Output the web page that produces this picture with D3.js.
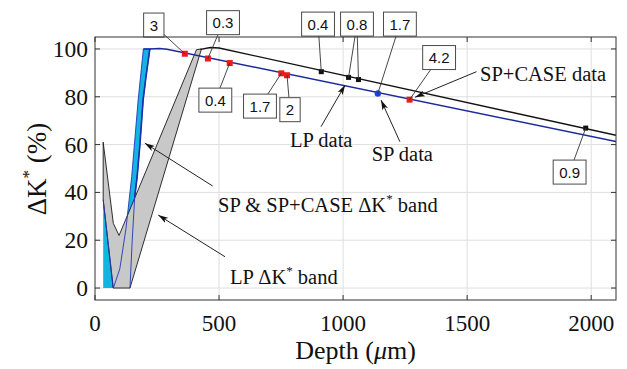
<!DOCTYPE html>
<html>
<head>
<meta charset="utf-8">
<script src="https://cdn.jsdelivr.net/npm/d3@7"></script>
<style>
  body { margin: 0; background: #fff; }
  text { font-family: "Liberation Serif", "Times New Roman", serif; fill: #111; }
  .box text { font-family: "Liberation Sans", Arial, sans-serif; }
</style>
</head>
<body>
<div id="chart"></div>
<script>
// depth in um, dK* in %
const xTicks = [0, 500, 1000, 1500, 2000];
const yTicks = [0, 20, 40, 60, 80, 100];

// LP dK* band outline (gray patch)
const lpBand = [[33, 61], [74, 27], [97, 22], [250, 60], [409, 99.7], [429, 100],
                [141, 0], [73, 0], [33, 37]];
// SP & SP+CASE dK* band (cyan patch)
const spBand = [[33, 37], [74, 0], [100, 8], [125, 25], [148, 46.7], [174, 78.7], [195, 100],
                [221, 100], [205, 88], [194, 78.7], [181, 60], [170, 46.7], [160, 38],
                [150, 20], [141, 0], [33, 0]];

// model curves
const lpCurve = [[425, 99.8], [465, 100.6], [500, 100.4], [2100, 63.9]];
const spCurve = [[221, 100], [260, 100.2], [290, 99.9], [2100, 61.3]];

// measured data
const lpDepth = [912, 1022, 1062, 1978];
const lpK     = [90.5, 88.1, 87.2, 66.9];
const spDepth = [1140];
const spK     = [81.4];
const caseDepth = [362, 455, 543, 751, 774, 1268];
const caseK     = [98.0, 96.0, 94.1, 89.8, 89.0, 78.8];

// boxed value labels: text, box centre (data units), target points
const labelText = ["3", "0.3", "0.4", "1.7", "2", "0.4", "0.8", "1.7", "4.2", "0.9"];
const labelAt = [[237, 110], [516, 111], [485, 78.6], [665, 76.1], [786, 74.6],
                 [899, 110.4], [1056, 110.4], [1229, 110.4], [1387, 96.4], [1913, 48.5]];
const labelTo = [[["c", 0]], [["c", 1]], [["c", 2]], [["c", 3]], [["c", 4]],
                 [["l", 0]], [["l", 1], ["l", 2]], [["s", 0]], [["c", 5]], [["l", 3]]];

// arrow notes
const noteText = ["LP data", "SP data", "SP+CASE data", "SP & SP+CASE \u0394K* band", "LP \u0394K* band"];
const noteAt   = [[786, 59.0], [1115, 53.1], [1552, 86.6], [496, 31.8], [544, 1.7]];
const arrowFrom = [[911, 67.5], [1229, 61.2], [1538, 90.5], [474, 42.7], [524, 13.1]];
const arrowTo   = [[1008, 84.9], [1153, 78.6], [1290, 79.8], [201, 60.6], [255, 30.5]];

const W = 627, H = 369;
const m = { left: 95, right: 11, top: 37, bottom: 69 };

const svg = d3.select("#chart").append("svg")
  .attr("width", W).attr("height", H);

const x = d3.scaleLinear().domain([0, 2100]).range([m.left, W - m.right]);
const y = d3.scaleLinear().domain([-5, 105]).range([H - m.bottom, m.top]);

svg.append("defs").append("marker")
  .attr("id", "head")
  .attr("viewBox", "0 0 10 6")
  .attr("refX", 10).attr("refY", 3)
  .attr("markerWidth", 10).attr("markerHeight", 6)
  .attr("markerUnits", "userSpaceOnUse")
  .attr("orient", "auto")
  .append("path").attr("d", "M0,0 L10,3 L0,6 L2.5,3 Z").attr("fill", "#111");

svg.append("clipPath").attr("id", "plot")
  .append("rect")
  .attr("x", m.left).attr("y", m.top)
  .attr("width", W - m.left - m.right).attr("height", H - m.top - m.bottom);

// grid
const grid = svg.append("g").attr("stroke", "#dedede").attr("stroke-width", 1);
grid.selectAll(".gx").data(xTicks.slice(1)).enter().append("line")
  .attr("x1", d => x(d)).attr("x2", d => x(d))
  .attr("y1", m.top).attr("y2", H - m.bottom);
grid.selectAll(".gy").data(yTicks).enter().append("line")
  .attr("x1", m.left).attr("x2", W - m.right)
  .attr("y1", d => y(d)).attr("y2", d => y(d));

const plot = svg.append("g").attr("clip-path", "url(#plot)");
const line = d3.line().x(d => x(d[0])).y(d => y(d[1]));

// bands
plot.append("path").attr("d", line(spBand) + "Z")
  .attr("fill", "#12b4e2").attr("stroke", "none");
plot.append("path").attr("d", line(lpBand) + "Z")
  .attr("fill", "#c8c8c8").attr("stroke", "#1a1a1a").attr("stroke-width", 0.9);
plot.append("path").attr("d", line(spBand.slice(0, spBand.length - 1)))
  .attr("fill", "none").attr("stroke", "#2236b8").attr("stroke-width", 0.9);
plot.append("path").attr("d", line(spBand.slice(6, 13)))
  .attr("fill", "none").attr("stroke", "#1c2fa8").attr("stroke-width", 1.6);

// curves
plot.append("path").attr("d", line(lpCurve))
  .attr("fill", "none").attr("stroke", "#111").attr("stroke-width", 1.3);
plot.append("path").attr("d", line(spCurve))
  .attr("fill", "none").attr("stroke", "#1c2a9c").attr("stroke-width", 1.4);

// points
const lpPts = lpDepth.map((d, i) => [d, lpK[i]]);
const spPts = spDepth.map((d, i) => [d, spK[i]]);
const casePts = caseDepth.map((d, i) => [d, caseK[i]]);
const series = { l: lpPts, s: spPts, c: casePts };

svg.selectAll(".lp").data(lpPts).enter().append("rect")
  .attr("x", d => x(d[0]) - 2.5).attr("y", d => y(d[1]) - 2.5)
  .attr("width", 5).attr("height", 5).attr("fill", "#111");
svg.selectAll(".sp").data(spPts).enter().append("circle")
  .attr("cx", d => x(d[0])).attr("cy", d => y(d[1])).attr("r", 3.2)
  .attr("fill", "#1f3fe0");
svg.selectAll(".case").data(casePts).enter().append("rect")
  .attr("x", d => x(d[0]) - 3).attr("y", d => y(d[1]) - 3)
  .attr("width", 6).attr("height", 6).attr("fill", "#f01818");

// boxed labels with leaders
labelText.forEach(function(t, i) {
  const cx = x(labelAt[i][0]), cy = y(labelAt[i][1]);
  const g = svg.append("g").attr("class", "box");
  const txt = g.append("text").attr("x", cx).attr("y", cy + 5.5)
    .attr("text-anchor", "middle").attr("font-size", 15).attr("fill", "#222").text(t);
  const hw = txt.node().getComputedTextLength() / 2 + 6, hh = 12;
  labelTo[i].forEach(function(ref) {
    const p = series[ref[0]][ref[1]];
    const dx = x(p[0]) - cx, dy = y(p[1]) - cy;
    const k = Math.min(hw / Math.abs(dx || 1e-6), hh / Math.abs(dy || 1e-6));
    g.insert("line", "text")
      .attr("x1", cx + dx * k).attr("y1", cy + dy * k)
      .attr("x2", x(p[0])).attr("y2", y(p[1]))
      .attr("stroke", "#333").attr("stroke-width", 0.9);
  });
  g.insert("rect", "text")
    .attr("x", cx - hw).attr("y", cy - hh).attr("width", hw * 2).attr("height", hh * 2)
    .attr("fill", "#fff").attr("stroke", "#4a4a4a").attr("stroke-width", 1);
});

// arrows and notes
arrowFrom.forEach(function(a, i) {
  svg.append("line")
    .attr("x1", x(a[0])).attr("y1", y(a[1]))
    .attr("x2", x(arrowTo[i][0])).attr("y2", y(arrowTo[i][1]))
    .attr("stroke", "#222").attr("stroke-width", 1).attr("marker-end", "url(#head)");
});
noteText.forEach(function(t, i) {
  const el = svg.append("text").attr("x", x(noteAt[i][0])).attr("y", y(noteAt[i][1]))
    .attr("font-size", 20.5);
  const parts = t.split("*");
  el.append("tspan").text(parts[0]);
  if (parts.length > 1) {
    el.append("tspan").attr("dy", -9).attr("font-size", 13).text("*");
    el.append("tspan").attr("dy", 9).text(parts[1]);
  }
});

// axes box with inward ticks
const axes = svg.append("g").attr("stroke", "#333").attr("stroke-width", 1).attr("fill", "none");
axes.append("rect").attr("x", m.left).attr("y", m.top)
  .attr("width", W - m.left - m.right).attr("height", H - m.top - m.bottom);
xTicks.forEach(function(d) {
  axes.append("line").attr("x1", x(d)).attr("x2", x(d)).attr("y1", H - m.bottom).attr("y2", H - m.bottom - 5);
  axes.append("line").attr("x1", x(d)).attr("x2", x(d)).attr("y1", m.top).attr("y2", m.top + 5);
});
yTicks.forEach(function(d) {
  axes.append("line").attr("x1", m.left).attr("x2", m.left + 5).attr("y1", y(d)).attr("y2", y(d));
  axes.append("line").attr("x1", W - m.right).attr("x2", W - m.right - 5).attr("y1", y(d)).attr("y2", y(d));
});

svg.selectAll(".xl").data(xTicks).enter().append("text")
  .attr("x", d => x(d)).attr("y", H - m.bottom + 31)
  .attr("text-anchor", "middle").attr("font-size", 23).text(d => d);
svg.selectAll(".yl").data(yTicks).enter().append("text")
  .attr("x", m.left - 7).attr("y", d => y(d) + 8)
  .attr("text-anchor", "end").attr("font-size", 23.5).text(d => d);

// axis titles
const xt = svg.append("text").attr("x", (m.left + W - m.right) / 2).attr("y", 359)
  .attr("text-anchor", "middle").attr("font-size", 26);
xt.append("tspan").text("Depth (");
xt.append("tspan").attr("font-style", "italic").text("\u03bc");
xt.append("tspan").text("m)");

const yt = svg.append("text").attr("transform", "translate(46,169) rotate(-90)")
  .attr("text-anchor", "middle").attr("font-size", 27);
yt.append("tspan").text("\u0394K");
yt.append("tspan").attr("dy", -12).attr("font-size", 17).text("*");
yt.append("tspan").attr("dy", 12).text(" (%)");
</script>
</body>
</html>
